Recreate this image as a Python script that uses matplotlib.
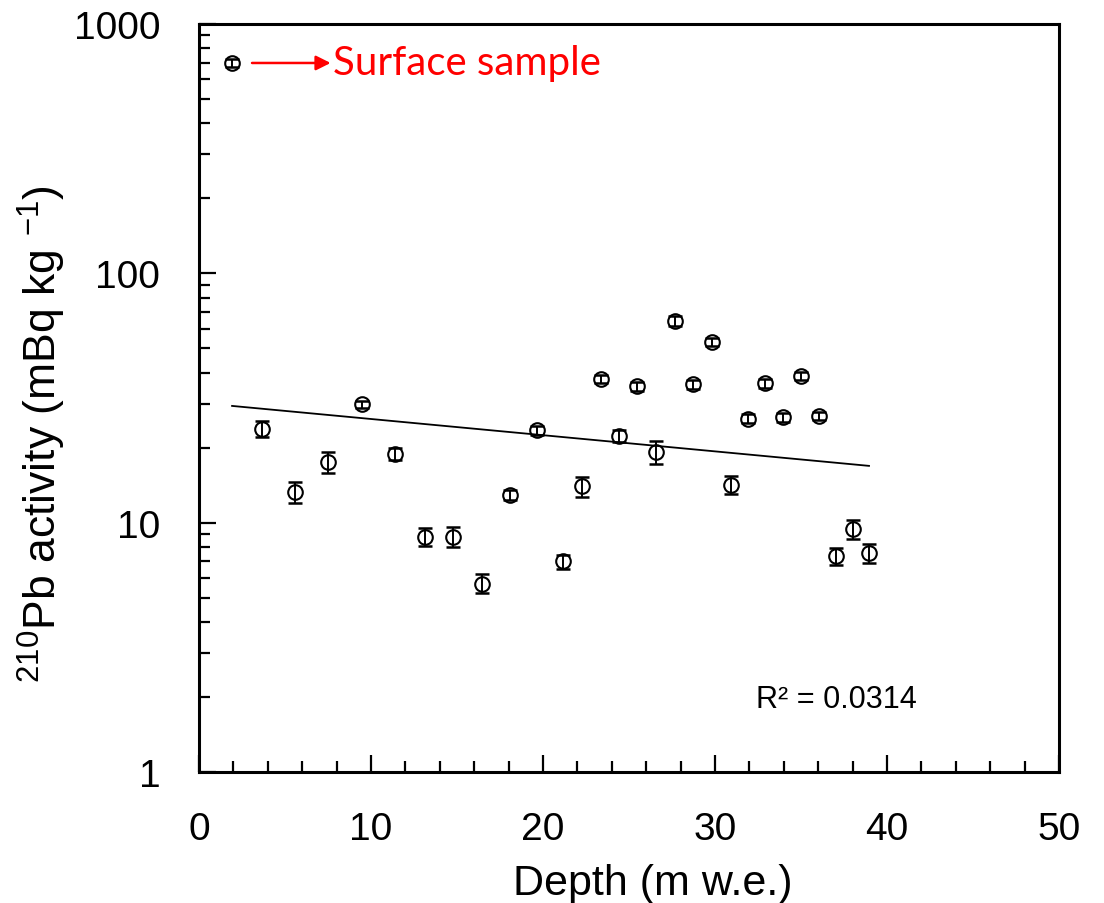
import matplotlib
matplotlib.use('Agg')
import matplotlib.pyplot as plt
from matplotlib.ticker import MultipleLocator, LogLocator, NullFormatter

plt.rcParams['font.family'] = ['Liberation Sans', 'DejaVu Sans']
plt.rcParams['mathtext.fontset'] = 'custom'
plt.rcParams['mathtext.rm'] = 'Liberation Sans'
plt.rcParams['mathtext.it'] = 'Liberation Sans:italic'
plt.rcParams['mathtext.bf'] = 'Liberation Sans:bold'

# depth (m w.e.) and 210Pb activity (mBq/kg)
depth = [1.92, 3.66, 5.58, 7.50, 9.48, 11.40, 13.14, 14.77, 16.45, 18.08,
         19.65, 21.16, 22.27, 23.37, 24.42, 25.47, 26.57, 27.67, 28.72, 29.83,
         30.93, 31.92, 32.90, 33.95, 35.00, 36.05, 37.03, 38.02, 38.95]
activity = [698, 23.8, 13.3, 17.5, 29.9, 18.9, 8.8, 8.8, 5.7, 12.9,
            23.5, 7.0, 14.0, 37.7, 22.3, 35.3, 19.2, 64.4, 36.0, 53.1,
            14.2, 26.1, 36.3, 26.5, 38.8, 26.8, 7.35, 9.44, 7.56]
err = [25, 1.8, 1.3, 1.7, 1.0, 1.0, 0.7, 0.8, 0.5, 0.6,
       1.0, 0.45, 1.3, 1.5, 1.2, 1.5, 2.0, 3.0, 1.5, 2.0,
       1.2, 1.1, 1.5, 1.1, 1.6, 1.1, 0.6, 0.8, 0.65]

# exponential trend line end points
trendDepth = [1.92, 38.95]
trendActivity = [29.4, 16.9]
r2Text = 'R\u00b2 = 0.0314'

fig = plt.figure(figsize=(11.04, 9.04), dpi=100)
ax = fig.add_axes([0.1803, 0.1449, 0.779, 0.8274])

ax.errorbar(depth, activity, yerr=err, fmt='none', ecolor='black',
            elinewidth=1.4, capsize=5, capthick=1.8, zorder=2)
ax.plot(depth, activity, 'o', mfc='none', mec='black', ms=10.5, mew=1.5, zorder=3)
ax.plot(trendDepth, trendActivity, color='black', lw=1.3, zorder=1)

ax.set_yscale('log')
ax.set_xlim(0, 50)
ax.set_ylim(1, 1000)

ax.xaxis.set_major_locator(MultipleLocator(10))
ax.xaxis.set_minor_locator(MultipleLocator(2))
ax.set_yticks([1, 10, 100, 1000])
ax.set_yticklabels(['1', '10', '100', '1000'])
ax.yaxis.set_minor_locator(LogLocator(base=10, subs=range(2, 10)))
ax.yaxis.set_minor_formatter(NullFormatter())

ax.tick_params(which='both', direction='in', top=False, right=False,
               labelsize=28, pad=28, width=1.6)
ax.tick_params(which='major', length=12)
ax.tick_params(which='minor', length=8)
for sp in ax.spines.values():
    sp.set_linewidth(2.2)

ax.set_xlabel('Depth (m w.e.)', fontsize=31)
ax.set_ylabel(r'$^{210}$Pb activity (mBq kg $^{-1}$)', fontsize=32)
ax.xaxis.set_label_coords(0.527, -0.122)
ax.yaxis.set_label_coords(-0.152, 0.453)

ax.text(32.4, 1.96, r2Text, fontsize=22, va='center', ha='left')

ax.annotate('', xy=(7.65, 698), xytext=(3.08, 698),
            arrowprops=dict(arrowstyle='-|>', color='red', lw=1.8,
                            mutation_scale=22, shrinkA=0, shrinkB=0))
ax.text(7.8, 698, 'Surface sample', color='red', fontsize=29,
        family=['Lato', 'DejaVu Sans'], va='center', ha='left')

plt.savefig('out.png', dpi=100)
